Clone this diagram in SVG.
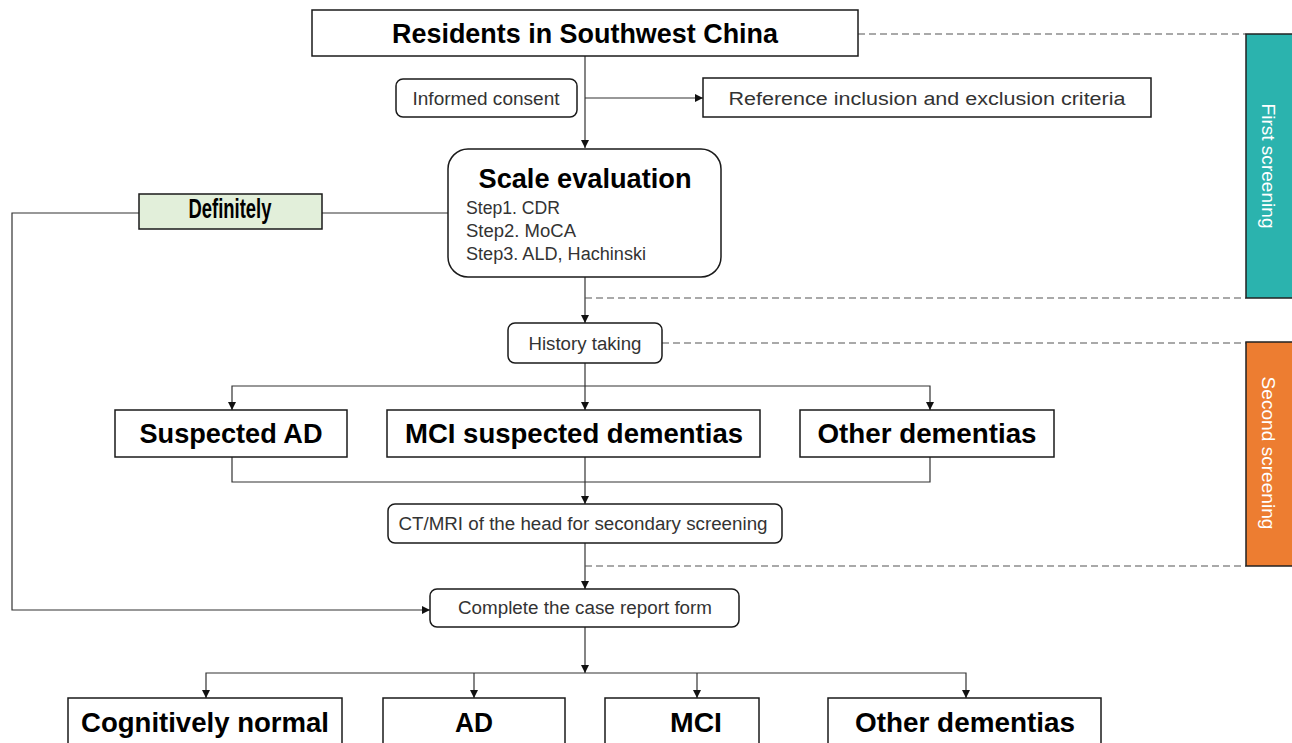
<svg xmlns="http://www.w3.org/2000/svg" width="1292" height="743" viewBox="0 0 1292 743">
<style>
.box{fill:#fff;stroke:#1a1a1a;stroke-width:1.5}
.ln{fill:none;stroke:#333;stroke-width:1.2}
.dash{fill:none;stroke:#555;stroke-width:1.2;stroke-dasharray:7 4}
.big{font-family:"Liberation Sans",Arial,sans-serif;font-weight:bold;font-size:27px;fill:#000;text-anchor:middle}
.mid{font-family:"Liberation Sans",Arial,sans-serif;font-size:18px;fill:#333;text-anchor:middle}
.step{font-family:"Liberation Sans",Arial,sans-serif;font-size:18px;fill:#333}
.side{font-family:"Liberation Sans",Arial,sans-serif;font-size:19px;fill:#fff;text-anchor:middle}
</style>
<defs>
<marker id="ah" viewBox="0 0 10 10" refX="10" refY="5" markerWidth="8" markerHeight="8" markerUnits="userSpaceOnUse" orient="auto">
<path d="M0,0 L10,5 L0,10 z" fill="#111"/>
</marker>
</defs>
<rect width="1292" height="743" fill="#fff"/>
<g id="connectors">
<path class="ln" d="M585,56 V148" marker-end="url(#ah)"/>
<path class="ln" d="M585,98 H703" marker-end="url(#ah)"/>
<path class="ln" d="M448,213 H322 M139,213 H12 V610 H430" marker-end="url(#ah)"/>
<path class="ln" d="M585,277 V323" marker-end="url(#ah)"/>
<path class="ln" d="M585,363 V410" marker-end="url(#ah)"/>
<path class="ln" d="M585,386 H232 V410" marker-end="url(#ah)"/>
<path class="ln" d="M585,386 H930 V410" marker-end="url(#ah)"/>
<path class="ln" d="M232,457 V482 H930 V457"/>
<path class="ln" d="M585,457 V504" marker-end="url(#ah)"/>
<path class="ln" d="M585,543 V589" marker-end="url(#ah)"/>
<path class="ln" d="M585,627 V673" marker-end="url(#ah)"/>
<path class="ln" d="M585,673 H206 V698" marker-end="url(#ah)"/>
<path class="ln" d="M474,673 V698" marker-end="url(#ah)"/>
<path class="ln" d="M585,673 H966 V698" marker-end="url(#ah)"/>
<path class="ln" d="M697,673 V698" marker-end="url(#ah)"/>
<path class="dash" d="M858,34 H1246 M585,298 H1246 M662,343 H1246 M585,566 H1246"/>
</g>
<g id="residents"><rect class="box" x="312" y="10" width="546" height="46"/><text class="big" x="585" y="43" font-size="26" textLength="386" lengthAdjust="spacingAndGlyphs">Residents in Southwest China</text></g>
<g id="consent"><rect class="box" x="396" y="79" width="181" height="38" rx="7"/><text class="mid" x="486" y="105" textLength="147" lengthAdjust="spacingAndGlyphs">Informed consent</text></g>
<g id="criteria"><rect class="box" x="703" y="78" width="448" height="39"/><text class="mid" x="927" y="105" font-size="20" textLength="397" lengthAdjust="spacingAndGlyphs">Reference inclusion and exclusion criteria</text></g>
<g id="scale"><rect class="box" x="448" y="149" width="273" height="128" rx="20"/><text class="big" x="585" y="188" font-size="28" textLength="213" lengthAdjust="spacingAndGlyphs">Scale evaluation</text>
<text class="step" x="466" y="214" textLength="94" lengthAdjust="spacingAndGlyphs">Step1. CDR</text>
<text class="step" x="466" y="237" textLength="110" lengthAdjust="spacingAndGlyphs">Step2. MoCA</text>
<text class="step" x="466" y="260" textLength="180" lengthAdjust="spacingAndGlyphs">Step3. ALD, Hachinski</text></g>
<g id="definitely"><rect x="139" y="194" width="183" height="35" fill="#E2EFDA" stroke="#1a1a1a" stroke-width="1.5"/><text class="big" x="230" y="218" font-size="16" textLength="83" lengthAdjust="spacingAndGlyphs">Definitely</text></g>
<g id="history"><rect class="box" x="508" y="323" width="154" height="40" rx="7"/><text class="mid" x="585" y="350" textLength="113" lengthAdjust="spacingAndGlyphs">History taking</text></g>
<g id="suspAD"><rect class="box" x="115" y="410" width="232" height="47"/><text class="big" x="231" y="443" textLength="183" lengthAdjust="spacingAndGlyphs">Suspected AD</text></g>
<g id="mciSusp"><rect class="box" x="387" y="410" width="373" height="47"/><text class="big" x="574" y="443" textLength="338" lengthAdjust="spacingAndGlyphs">MCI suspected dementias</text></g>
<g id="otherSusp"><rect class="box" x="800" y="410" width="254" height="47"/><text class="big" x="927" y="443" textLength="219" lengthAdjust="spacingAndGlyphs">Other dementias</text></g>
<g id="ctmri"><rect class="box" x="388" y="504" width="394" height="39" rx="7"/><text class="mid" x="583" y="530" textLength="369" lengthAdjust="spacingAndGlyphs">CT/MRI of the head for secondary screening</text></g>
<g id="crf"><rect class="box" x="430" y="589" width="309" height="38" rx="7"/><text class="mid" x="585" y="614" textLength="254" lengthAdjust="spacingAndGlyphs">Complete the case report form</text></g>
<g id="normal"><rect class="box" x="68" y="698" width="274" height="50"/><text class="big" x="205" y="732" textLength="248" lengthAdjust="spacingAndGlyphs">Cognitively normal</text></g>
<g id="ad"><rect class="box" x="383" y="698" width="182" height="50"/><text class="big" x="474" y="732" textLength="38" lengthAdjust="spacingAndGlyphs">AD</text></g>
<g id="mci"><rect class="box" x="605" y="698" width="154" height="50"/><text class="big" x="696" y="732" textLength="52" lengthAdjust="spacingAndGlyphs">MCI</text></g>
<g id="otherFinal"><rect class="box" x="828" y="698" width="273" height="50"/><text class="big" x="965" y="732" textLength="220" lengthAdjust="spacingAndGlyphs">Other dementias</text></g>
<g id="first"><rect x="1246" y="34" width="50" height="264" fill="#2BB3AE" stroke="#222" stroke-width="1.5"/><text class="side" transform="translate(1262,166) rotate(90)" textLength="125" lengthAdjust="spacingAndGlyphs">First screening</text></g>
<g id="second"><rect x="1246" y="342" width="50" height="224" fill="#ED7D31" stroke="#222" stroke-width="1.5"/><text class="side" transform="translate(1262,453) rotate(90)" textLength="153" lengthAdjust="spacingAndGlyphs">Second screening</text></g>
</svg>
